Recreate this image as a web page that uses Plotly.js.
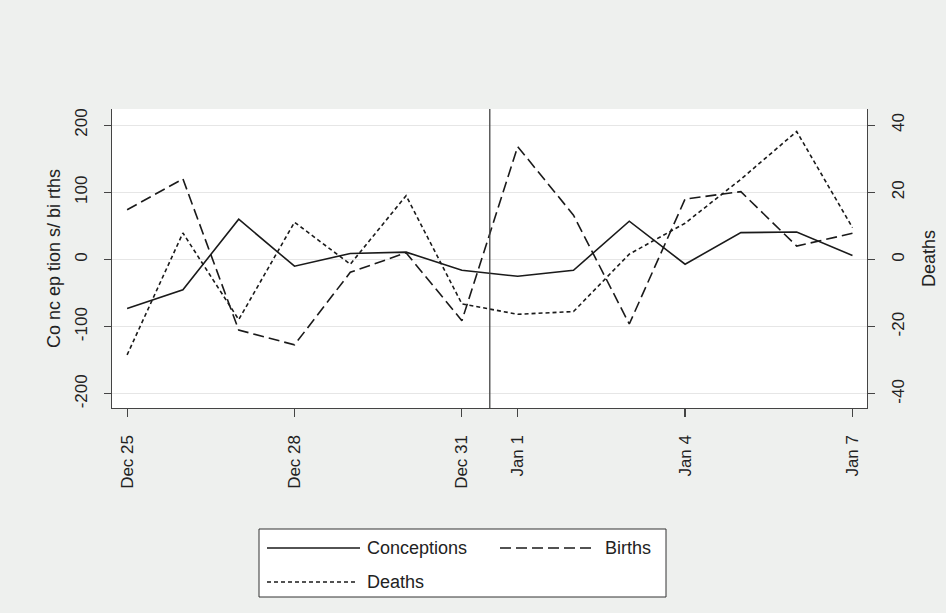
<!DOCTYPE html>
<html>
<head>
<meta charset="utf-8">
<script src="https://cdn.plot.ly/plotly-3.0.1.min.js"></script>
<style>
  html, body { margin: 0; padding: 0; background: #eef0ee; }
  #chart { width: 946px; height: 613px; }
</style>
</head>
<body>
<div id="chart"></div>
<script>
// ---- data ----
const dates = ['2000-12-25','2000-12-26','2000-12-27','2000-12-28','2000-12-29','2000-12-30','2000-12-31',
               '2001-01-01','2001-01-02','2001-01-03','2001-01-04','2001-01-05','2001-01-06','2001-01-07'];
const tickDates = ['2000-12-25','2000-12-28','2000-12-31','2001-01-01','2001-01-04','2001-01-07'];
const tickLabels = ['Dec 25','Dec 28','Dec 31','Jan 1','Jan 4','Jan 7'];
const conceptions = [-73, -45, 60, -10, 9, 11, -16, -25, -16, 57, -7, 40, 41, 6];
const births = [74, 120, -105, -127, -19, 10, -91, 168, 66, -96, 90, 101, 20, 39];
const deaths = [-28.4, 7.9, -17.9, 11.1, -1.4, 19.0, -13.2, -16.3, -15.5, 1.6, 10.8, 23.9, 38.1, 9.5];
const leftTicks = [-200, -100, 0, 100, 200];
const rightTicks = [-40, -20, 0, 20, 40];
const seriesNames = ['Conceptions', 'Births', 'Deaths'];
const breakDate = '2000-12-31 12:00';

// ---- layout geometry ----
const W = 946, H = 613;
const M = { l: 112, r: 79, t: 109, b: 205 };
const PW = W - M.l - M.r, PH = H - M.t - M.b;
const px = x => (x - M.l) / PW;
const py = y => (H - M.b - y) / PH;

const ink = '#1a1a1a';
const font = 'Liberation Sans, Arial, Helvetica, sans-serif';
const dashes = ['solid', '11px,5px', '4px,3px'];

const traces = [
  { x: dates, y: conceptions, name: seriesNames[0], type: 'scatter', mode: 'lines',
    line: { color: ink, width: 1.6, dash: dashes[0] }, yaxis: 'y' },
  { x: dates, y: births, name: seriesNames[1], type: 'scatter', mode: 'lines',
    line: { color: ink, width: 1.6, dash: dashes[1] }, yaxis: 'y' },
  { x: dates, y: deaths, name: seriesNames[2], type: 'scatter', mode: 'lines',
    line: { color: ink, width: 1.6, dash: dashes[2] }, yaxis: 'y2' }
];

// legend (drawn manually to match Stata style)
const shapes = [
  { type: 'line', xref: 'x', yref: 'paper', x0: breakDate, x1: breakDate, y0: 0, y1: 1,
    line: { color: '#444', width: 1.3 } },
  { type: 'rect', xref: 'paper', yref: 'paper', x0: px(259), x1: px(666), y0: py(597), y1: py(529),
    fillcolor: '#ffffff', line: { color: '#333', width: 1 } }
];
const annotations = [];
const legendItems = [
  { x0: 267, x1: 360, y: 548, tx: 365 },
  { x0: 500, x1: 593, y: 548, tx: 603 },
  { x0: 267, x1: 355, y: 582, tx: 365 }
];
legendItems.forEach((it, i) => {
  shapes.push({ type: 'line', xref: 'paper', yref: 'paper', x0: px(it.x0), x1: px(it.x1), y0: py(it.y), y1: py(it.y),
    line: { color: ink, width: 1.6, dash: dashes[i] } });
  annotations.push({ xref: 'paper', yref: 'paper', x: px(it.tx), y: py(it.y), xanchor: 'left', yanchor: 'middle',
    text: seriesNames[i], showarrow: false, font: { family: font, size: 18, color: '#222' } });
});

const axisCommon = {
  showline: true, linecolor: '#444', linewidth: 1.2,
  ticks: 'outside', ticklen: 7, tickwidth: 1.2, tickcolor: '#444',
  tickfont: { family: font, size: 17, color: '#222' },
  zeroline: false
};

const layout = {
  width: W, height: H,
  margin: M,
  paper_bgcolor: '#eef0ee',
  plot_bgcolor: '#ffffff',
  showlegend: false,
  xaxis: Object.assign({}, axisCommon, {
    type: 'date',
    range: ['2000-12-24 17:30', '2001-01-07 06:15'],
    tickmode: 'array', tickvals: tickDates, ticktext: tickLabels,
    tickangle: -90, ticklen: 8, showgrid: false, ticklabelstandoff: 11
  }),
  yaxis: Object.assign({}, axisCommon, {
    range: [-221, 224],
    tickmode: 'array', tickvals: leftTicks, ticktext: leftTicks.map(String),
    tickangle: -90, showgrid: true, gridcolor: '#e6e6e6', gridwidth: 1.2, ticklabelstandoff: 10,
    title: { text: 'Co nc ep tion s/ bi rths', font: { family: font, size: 18, color: '#222' }, standoff: 6 }
  }),
  yaxis2: Object.assign({}, axisCommon, {
    overlaying: 'y', side: 'right',
    range: [-44.2, 44.8],
    tickmode: 'array', tickvals: rightTicks, ticktext: rightTicks.map(String),
    tickangle: -90, showgrid: false, ticklabelstandoff: 8,
    title: { text: 'Deaths', font: { family: font, size: 18, color: '#222' }, standoff: 15 }
  }),
  shapes: shapes,
  annotations: annotations
};

Plotly.newPlot('chart', traces, layout, { staticPlot: true, displayModeBar: false });
</script>
</body>
</html>
